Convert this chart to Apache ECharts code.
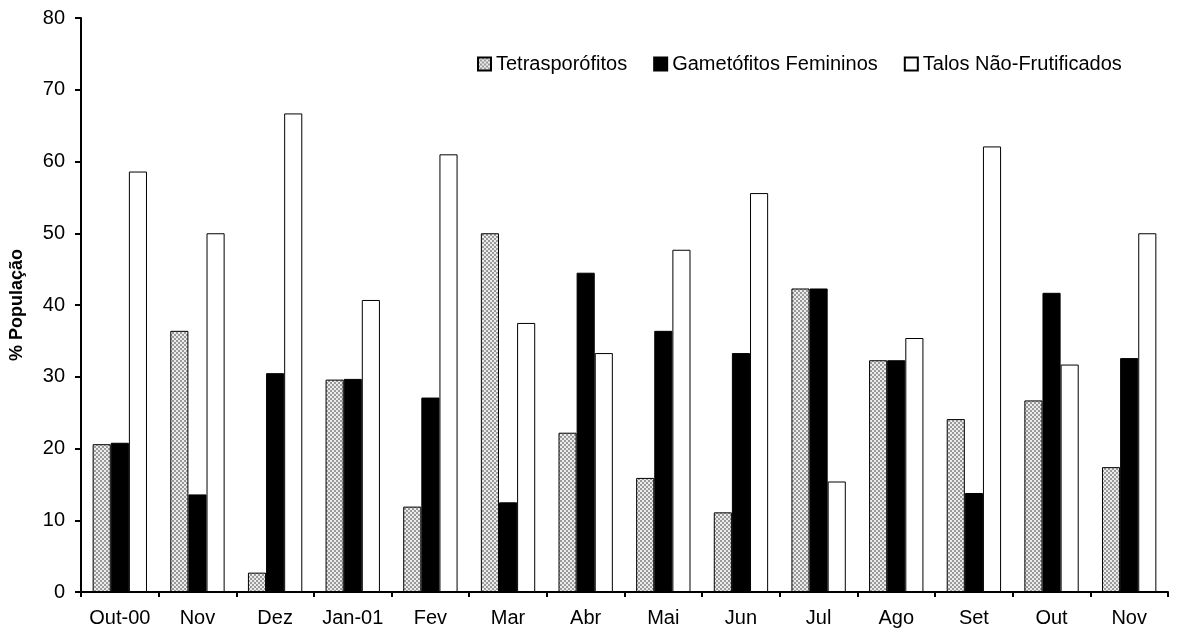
<!DOCTYPE html>
<html>
<head>
<meta charset="utf-8">
<script src="https://cdn.jsdelivr.net/npm/echarts@6/dist/echarts.min.js"></script>
<style>
  html, body { margin: 0; padding: 0; background: #fff; }
  #main { width: 1182px; height: 634px; }
</style>
</head>
<body>
<div id="main"></div>
<script>
  // meses
  const months = ['Out-00', 'Nov', 'Dez', 'Jan-01', 'Fev', 'Mar', 'Abr', 'Mai', 'Jun', 'Jul', 'Ago', 'Set', 'Out', 'Nov']
  const tetrasporofitos = [20.6, 36.4, 2.7, 29.6, 11.9, 50.0, 22.2, 15.9, 11.1, 42.3, 32.3, 24.1, 26.7, 17.4]
  const gametofitos = [20.8, 13.6, 30.5, 29.7, 27.1, 12.5, 44.5, 36.4, 33.3, 42.3, 32.3, 13.8, 41.7, 32.6]
  const naoFrutificados = [58.6, 50.0, 66.7, 40.7, 61.0, 37.5, 33.3, 47.7, 55.6, 15.4, 35.4, 62.1, 31.7, 50.0]

  // quadriculado cinza para os tetrasporófitos
  const pat = document.createElement('canvas')
  pat.width = 4
  pat.height = 4
  const ctx = pat.getContext('2d')
  ctx.fillStyle = '#ececec'
  ctx.fillRect(0, 0, 4, 4)
  ctx.fillStyle = '#9a9a9a'
  ctx.fillRect(0, 0, 2, 2)
  ctx.fillRect(2, 2, 2, 2)

  const font = 'Liberation Sans, Arial, Helvetica, sans-serif'
  const chart = echarts.init(document.getElementById('main'))

  const barStyle = { borderColor: '#000', borderWidth: 1 }

  chart.setOption({
    animation: false,
    backgroundColor: '#fff',
    textStyle: { fontFamily: font, color: '#000' },
    grid: { left: 80, right: 14, top: 18, bottom: 42 },
    legend: {
      top: 49,
      left: 472,
      icon: 'rect',
      itemWidth: 13,
      itemHeight: 13,
      itemGap: 26,
      textStyle: { fontSize: 20, color: '#000', fontFamily: font },
      data: ['Tetrasporófitos', 'Gametófitos Femininos', 'Talos Não-Frutificados']
    },
    xAxis: {
      type: 'category',
      data: months,
      axisLine: { lineStyle: { color: '#000', width: 2 } },
      axisTick: { show: true, length: 5, lineStyle: { color: '#000', width: 2 } },
      axisLabel: { interval: 0, fontSize: 20, color: '#000', margin: 16, fontFamily: font }
    },
    yAxis: {
      type: 'value',
      min: 0,
      max: 80,
      interval: 10,
      name: '% População',
      nameLocation: 'middle',
      nameGap: 55,
      nameTextStyle: { fontSize: 18, fontWeight: 'bold', color: '#000', fontFamily: font },
      axisLine: { show: true, lineStyle: { color: '#000', width: 2 } },
      axisTick: { show: true, length: 6, lineStyle: { color: '#000', width: 2 } },
      axisLabel: { fontSize: 20, color: '#000', margin: 16, fontFamily: font },
      splitLine: { show: false }
    },
    series: [
      {
        name: 'Tetrasporófitos',
        type: 'bar',
        data: tetrasporofitos,
        barGap: '0%',
        barCategoryGap: '30%',
        itemStyle: Object.assign({ color: { image: pat, repeat: 'repeat' } }, barStyle)
      },
      {
        name: 'Gametófitos Femininos',
        type: 'bar',
        data: gametofitos,
        barGap: '0%',
        barCategoryGap: '30%',
        itemStyle: Object.assign({ color: '#000' }, barStyle)
      },
      {
        name: 'Talos Não-Frutificados',
        type: 'bar',
        data: naoFrutificados,
        barGap: '0%',
        barCategoryGap: '30%',
        itemStyle: Object.assign({ color: '#fff' }, barStyle)
      }
    ]
  })
</script>
</body>
</html>
